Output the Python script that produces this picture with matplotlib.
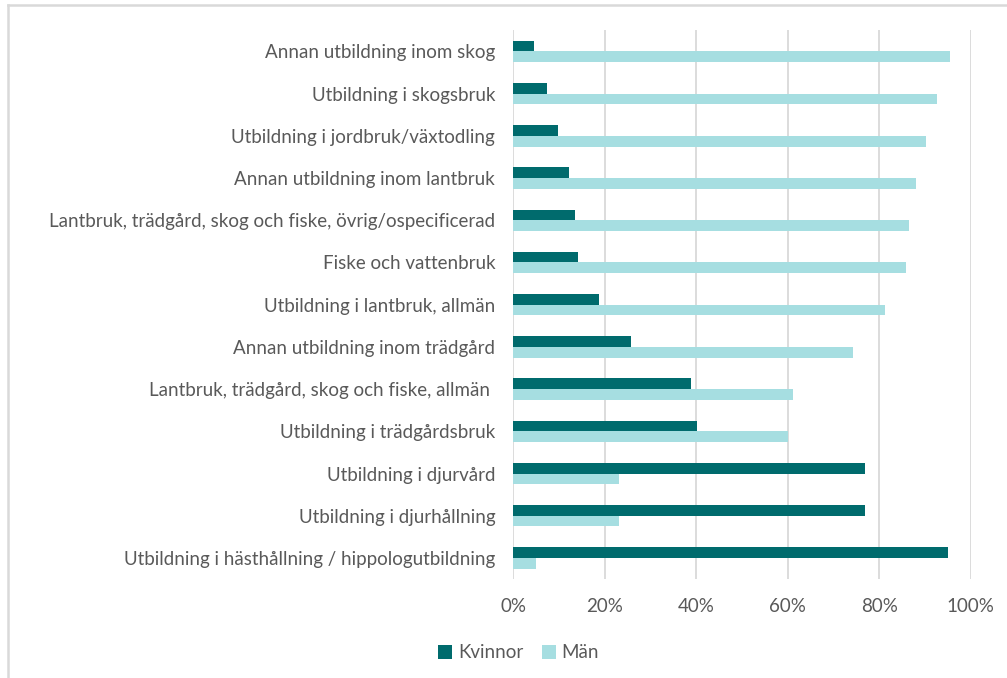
import numpy as np
import matplotlib.pyplot as plt
from matplotlib.lines import Line2D

plt.rcParams['font.family'] = ['Lato', 'DejaVu Sans']

categories = [
    'Annan utbildning inom skog',
    'Utbildning i skogsbruk',
    'Utbildning i jordbruk/växtodling',
    'Annan utbildning inom lantbruk',
    'Lantbruk, trädgård, skog och fiske, övrig/ospecificerad',
    'Fiske och vattenbruk',
    'Utbildning i lantbruk, allmän',
    'Annan utbildning inom trädgård',
    'Lantbruk, trädgård, skog och fiske, allmän ',
    'Utbildning i trädgårdsbruk',
    'Utbildning i djurvård',
    'Utbildning i djurhållning',
    'Utbildning i hästhållning / hippologutbildning',
]
kvinnor = [4.5, 7.4, 9.7, 12.1, 13.6, 14.2, 18.7, 25.8, 38.8, 40.1, 76.8, 76.8, 95.1]
man = [95.5, 92.6, 90.3, 88.0, 86.5, 85.8, 81.3, 74.2, 61.2, 60.0, 23.2, 23.2, 4.9]

c_kv = '#006B6D'
c_man = '#A6DEE1'
txt = '#595959'
grid = '#D9D9D9'

fig = plt.figure(figsize=(10.07, 6.78), dpi=100)
ax = fig.add_axes([0.5097, 0.146, 0.4542, 0.8092])

y = np.arange(len(categories))
h = 0.254
ax.barh(y - h / 2, np.array(kvinnor) / 100, height=h, color=c_kv, label='Kvinnor')
ax.barh(y + h / 2, np.array(man) / 100, height=h, color=c_man, label='Män')

ax.set_xlim(0, 1)
ax.set_ylim(len(categories) - 0.5, -0.5)
ax.set_xticks(np.arange(0, 1.01, 0.2))
ax.set_xticklabels([f'{int(v * 100)}%' for v in np.arange(0, 1.01, 0.2)])
ax.set_yticks(y)
ax.set_yticklabels(categories)
ax.tick_params(axis='both', length=0, labelsize=13.5, colors=txt)
ax.tick_params(axis='y', pad=13)
ax.tick_params(axis='x', pad=14)
ax.xaxis.grid(True, color=grid, linewidth=1.3)
ax.set_axisbelow(True)
for s in ax.spines.values():
    s.set_visible(False)

fig.legend(loc='center', bbox_to_anchor=(0.515, 0.037), ncol=2, frameon=False,
           fontsize=13.5, labelcolor=txt, handlelength=0.75, handleheight=0.75,
           handletextpad=0.3, columnspacing=1.0)

# chart frame edges
fig.add_artist(Line2D([8 / 1007, 1], [1 - 5 / 678, 1 - 5 / 678], color=grid, lw=1.8))
fig.add_artist(Line2D([8 / 1007, 8 / 1007], [0, 1 - 5 / 678], color=grid, lw=1.8))

fig.savefig('out.png', dpi=100)
